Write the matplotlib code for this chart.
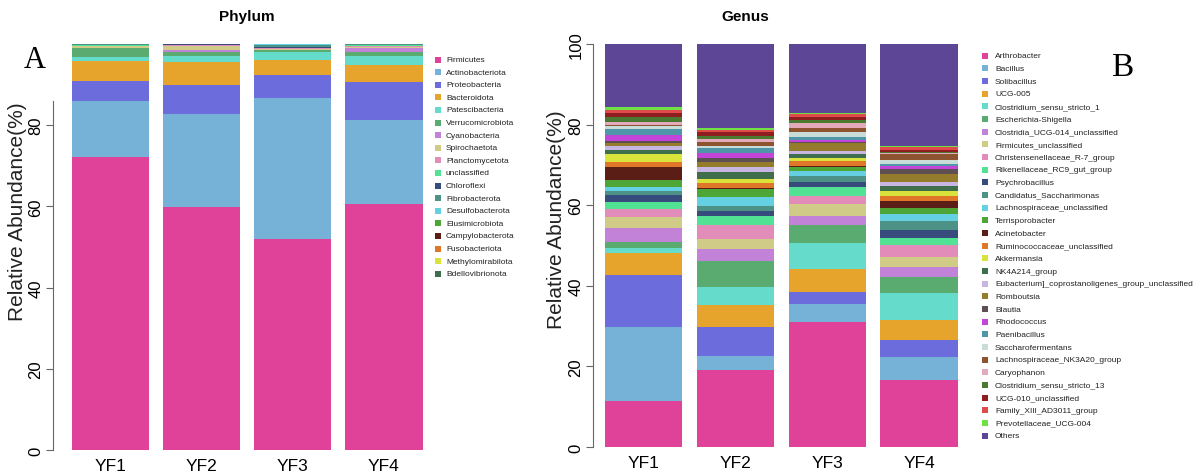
import numpy as np
import matplotlib.pyplot as plt
from matplotlib.patches import Rectangle

plt.rcParams['font.family'] = ['Liberation Sans', 'DejaVu Sans']

samples = ['YF1', 'YF2', 'YF3', 'YF4']

# Phylum level
phylum_names = ['Firmicutes', 'Actinobacteriota', 'Proteobacteria', 'Bacteroidota',
                'Patescibacteria', 'Verrucomicrobiota', 'Cyanobacteria', 'Spirochaetota',
                'Planctomycetota', 'unclassified', 'Chloroflexi', 'Fibrobacterota',
                'Desulfobacterota', 'Elusimicrobiota', 'Campylobacterota', 'Fusobacteriota',
                'Methylomirabilota', 'Bdellovibrionota']
phylum_yf1 = [72.2, 13.8, 5.0, 4.9, 0.8, 2.3, 0.1, 0.3, 0.2, 0.1, 0.1, 0.1, 0.05, 0.05, 0, 0, 0, 0]
phylum_yf2 = [59.9, 22.9, 7.1, 5.7, 1.5, 1.0, 0.5, 0.8, 0.3, 0.1, 0.1, 0.1, 0, 0, 0, 0, 0, 0]
phylum_yf3 = [52.0, 34.7, 5.7, 3.7, 2.0, 0.4, 0.1, 0.2, 0.2, 0.1, 0.1, 0.6, 0.1, 0.1, 0, 0, 0, 0]
phylum_yf4 = [60.6, 20.8, 9.2, 4.2, 2.3, 1.0, 0.9, 0.2, 0.4, 0.1, 0.1, 0.1, 0.1, 0, 0, 0, 0, 0]

# Genus level
genus_names = ['Arthrobacter', 'Bacillus', 'Solibacillus', 'UCG-005',
               'Clostridium_sensu_stricto_1', 'Escherichia-Shigella',
               'Clostridia_UCG-014_unclassified', 'Firmicutes_unclassified',
               'Christensenellaceae_R-7_group', 'Rikenellaceae_RC9_gut_group',
               'Psychrobacillus', 'Candidatus_Saccharimonas', 'Lachnospiraceae_unclassified',
               'Terrisporobacter', 'Acinetobacter', 'Ruminococcaceae_unclassified',
               'Akkermansia', 'NK4A214_group',
               'Eubacterium]_coprostanoligenes_group_unclassified', 'Romboutsia',
               'Blautia', 'Rhodococcus', 'Paenibacillus', 'Saccharofermentans',
               'Lachnospiraceae_NK3A20_group', 'Caryophanon', 'Clostridium_sensu_stricto_13',
               'UCG-010_unclassified', 'Family_XIII_AD3011_group', 'Prevotellaceae_UCG-004',
               'Others']
genus_yf1 = [11.3, 18.6, 12.8, 5.4, 1.2, 1.5, 3.6, 2.7, 1.9, 1.9, 1.6, 0.9, 1.0, 1.9, 3.1, 1.2,
             2.1, 1.0, 1.1, 0.6, 0.6, 1.4, 1.5, 0.7, 0.4, 0.6, 1.2, 1.1, 0.6, 0.8, 15.7]
genus_yf2 = [19.2, 3.3, 7.2, 5.5, 4.4, 6.6, 2.9, 2.5, 3.4, 2.2, 1.4, 1.3, 2.1, 1.9, 0.3, 1.2,
             1.1, 1.8, 1.3, 1.2, 0.8, 1.4, 1.1, 0.7, 0.8, 0.8, 0.8, 1.0, 0.5, 0.4, 20.9]
genus_yf3 = [30.9, 4.7, 2.8, 5.8, 6.4, 4.5, 2.3, 2.9, 2.1, 2.0, 1.3, 1.6, 1.3, 0.8, 0.3, 1.3,
             0.6, 1.1, 0.8, 1.9, 0.3, 0.5, 0.6, 1.4, 0.9, 1.3, 0.8, 0.8, 0.7, 0.2, 17.1]
genus_yf4 = [16.7, 5.7, 4.2, 5.0, 6.6, 4.1, 2.4, 2.5, 2.9, 1.8, 2.0, 2.3, 1.6, 1.5, 1.7, 1.4,
             1.2, 1.2, 1.0, 1.9, 1.3, 0.8, 0.3, 1.0, 1.6, 0.2, 0.2, 0.5, 0.9, 0.2, 25.3]

palette = ['#E0429A', '#76B1D8', '#6C6CDC', '#E6A42C', '#64DBCB', '#5AAB70', '#C282D8',
           '#D0CC88', '#E28CBA', '#52E294', '#374C7C', '#4C9286', '#64D0E2', '#4EA636',
           '#5A1E16', '#E07628', '#DAE23C', '#3E6E4C', '#C8B6E2', '#957B2C', '#5E5052',
           '#C244D8', '#4E96A8', '#CADCD8', '#8E5430', '#E2AABA', '#4A7A30', '#8E1E20',
           '#E04A4A', '#6EE242', '#5E4696']

fig = plt.figure(figsize=(12, 4.77), dpi=100)
W, H = 1200, 477


def stacked(ax, data, names, width):
    data = np.array(data).T
    x = np.arange(len(samples))
    bottom = np.zeros(len(samples))
    for i in range(len(names)):
        ax.bar(x, data[i], width, bottom=bottom, color=palette[i], linewidth=0)
        bottom += data[i]
    ax.set_ylim(0, 100)
    ax.set_xticks(x)
    ax.set_xticklabels(samples, fontsize=12.5)
    ax.tick_params(axis='x', length=0, pad=6)
    ax.tick_params(axis='y', length=5, width=0.8, color='#666666', labelsize=12,
                   labelrotation=90, pad=2)
    for lab in ax.get_yticklabels():
        lab.set_verticalalignment('center')
    for s in ['top', 'right', 'bottom']:
        ax.spines[s].set_visible(False)
    ax.spines['left'].set_color('#666666')
    ax.spines['left'].set_linewidth(0.8)


# Left panel: phylum
ax1 = fig.add_axes([53 / W, 26 / H, 380 / W, 406 / H])
stacked(ax1, [phylum_yf1, phylum_yf2, phylum_yf3, phylum_yf4], phylum_names, 0.85)
ax1.set_xlim(-0.63, 3.54)
ax1.set_yticks([0, 20, 40, 60, 80])
ax1.spines['left'].set_bounds(0, 86)
fig.text(247 / W, 1 - 17 / H, 'Phylum', fontsize=11, fontweight='bold', ha='center', va='center')
fig.text(18 / W, 1 - 212 / H, 'Relative Abundance(%)', fontsize=15, rotation=90,
         ha='center', va='center', color='#222222')
fig.text(35 / W, 1 - 60 / H, 'A', fontsize=22, family='Liberation Serif', ha='center', va='center')

# Right panel: genus
ax2 = fig.add_axes([593 / W, 29 / H, 371 / W, 403 / H])
stacked(ax2, [genus_yf1, genus_yf2, genus_yf3, genus_yf4], genus_names, 0.84)
ax2.set_xlim(-0.55, 3.49)
ax2.set_yticks([0, 20, 40, 60, 80, 100])
fig.text(745 / W, 1 - 17 / H, 'Genus', fontsize=11, fontweight='bold', ha='center', va='center')
fig.text(557 / W, 1 - 220 / H, 'Relative Abundance(%)', fontsize=15, rotation=90,
         ha='center', va='center', color='#222222')
fig.text(1122 / W, 1 - 68 / H, 'B', fontsize=24, family='Liberation Serif', ha='center', va='center')


def legend(names, sq_x, txt_x, y0, step):
    for i, name in enumerate(names):
        y = 1 - (y0 + step * i) / H
        fig.patches.append(Rectangle((sq_x / W, y - 3 / H), 6 / W, 6 / H,
                                     transform=fig.transFigure, color=palette[i], lw=0))
        fig.text(txt_x / W, y, name, fontsize=6.0, va='center', color='#222222')


legend(phylum_names, 435, 446, 60.5, 12.6)
legend(genus_names, 982, 995, 56.7, 12.67)

fig.savefig('out.png', dpi=100)
